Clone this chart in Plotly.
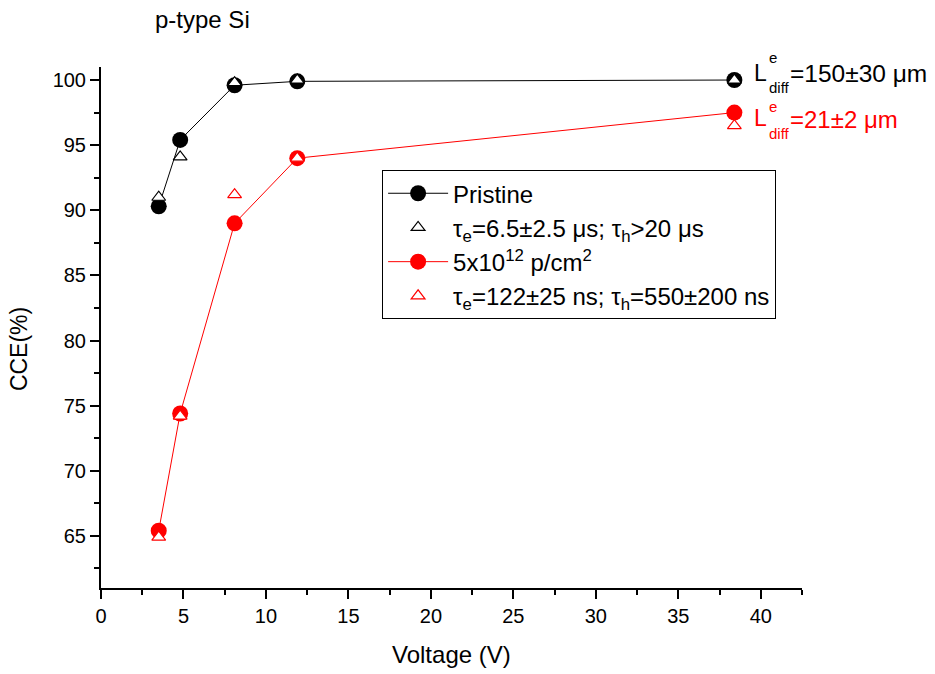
import plotly.graph_objects as go

voltage = [3.5, 4.8, 8.1, 11.9, 38.4]
cce_pristine = [90.3, 95.4, 99.6, 99.9, 100.0]
cce_pristine_fit = [91.0, 94.1, 99.8, 100.0, 100.0]
cce_irr = [65.4, 74.4, 89.0, 94.0, 97.5]
cce_irr_fit = [64.9, 74.2, 91.2, 94.0, 96.5]

names = [
    "Pristine",
    "τ<sub>e</sub>=6.5±2.5 μs; τ<sub>h</sub>&gt;20 μs",
    "5x10<sup>12</sup> p/cm<sup>2</sup>",
    "τ<sub>e</sub>=122±25 ns; τ<sub>h</sub>=550±200 ns",
]

FONT = "Liberation Sans, Arial, sans-serif"
RED = "#ff0000"

fig = go.Figure()
fig.add_trace(go.Scatter(x=voltage, y=cce_pristine, mode="lines+markers", name=names[0],
                         line=dict(color="black", width=1),
                         marker=dict(symbol="circle", size=16, color="black"),
                         legendgroup="a"))
fig.add_trace(go.Scatter(x=voltage, y=cce_pristine_fit, mode="markers", name=names[1],
                         marker=dict(symbol="triangle-up", size=12, color="white",
                                     line=dict(color="black", width=1.2)),
                         legendgroup="b"))
fig.add_trace(go.Scatter(x=voltage, y=cce_irr, mode="lines+markers", name=names[2],
                         line=dict(color=RED, width=1),
                         marker=dict(symbol="circle", size=16, color=RED),
                         legendgroup="c"))
fig.add_trace(go.Scatter(x=voltage, y=cce_irr_fit, mode="markers", name=names[3],
                         marker=dict(symbol="triangle-up", size=12, color="white",
                                     line=dict(color=RED, width=1.2)),
                         legendgroup="d"))

axis_common = dict(showgrid=False, zeroline=False, showline=True, linecolor="black",
                   linewidth=2, ticks="outside", ticklen=9, tickwidth=1.5,
                   tickcolor="black", tickfont=dict(family=FONT, size=20, color="black"),
                   mirror=False)

fig.update_xaxes(range=[0, 42.5], tick0=0, dtick=5,
                 minor=dict(ticks="outside", ticklen=5, tickwidth=1.5, dtick=2.5, tick0=0,
                            tickcolor="black"),
                 **axis_common)
fig.update_yaxes(range=[61, 101], tick0=65, dtick=5,
                 minor=dict(ticks="outside", ticklen=5, tickwidth=1.5, dtick=2.5, tick0=60,
                            tickcolor="black"),
                 **axis_common)

def ann(text, x, y, size, color="black", xanchor="left", textangle=0):
    fig.add_annotation(text=text, x=x, y=y, xref="paper", yref="paper", showarrow=False,
                       xanchor=xanchor, yanchor="middle", textangle=textangle,
                       font=dict(family=FONT, size=size, color=color))

ann("p-type Si", 0.1455, 1.092, 24, xanchor="center")
ann("Voltage (V)", 0.5, -0.127, 24, xanchor="center")
ann("CCE(%)", -0.117, 0.4585, 23, xanchor="center", textangle=-90)

# L_diff labels
ann("L", 0.928, 0.9885, 23)
ann("e", 0.950, 1.0188, 15)
ann("diff", 0.950, 0.9616, 15)
ann("=150±30 μm", 0.980, 0.9866, 24.5)
ann("L", 0.928, 0.902, 23, color=RED)
ann("e", 0.950, 0.925, 15, color=RED)
ann("diff", 0.950, 0.8733, 15, color=RED)
ann("=21±2 μm", 0.980, 0.900, 24, color=RED)

fig.update_layout(
    width=935, height=674,
    margin=dict(l=101, r=133, t=67, b=86, autoexpand=False),
    paper_bgcolor="white", plot_bgcolor="white",
    font=dict(family=FONT, color="black"),
    legend=dict(x=0.401, y=0.802, xanchor="left", yanchor="top",
                bgcolor="white", bordercolor="black", borderwidth=1,
                font=dict(family=FONT, size=24, color="black"),
                tracegroupgap=0, itemwidth=60),
    showlegend=True,
)

fig.write_html("out.html", config={"displayModeBar": False},
               post_script="document.body.style.margin='0';")
